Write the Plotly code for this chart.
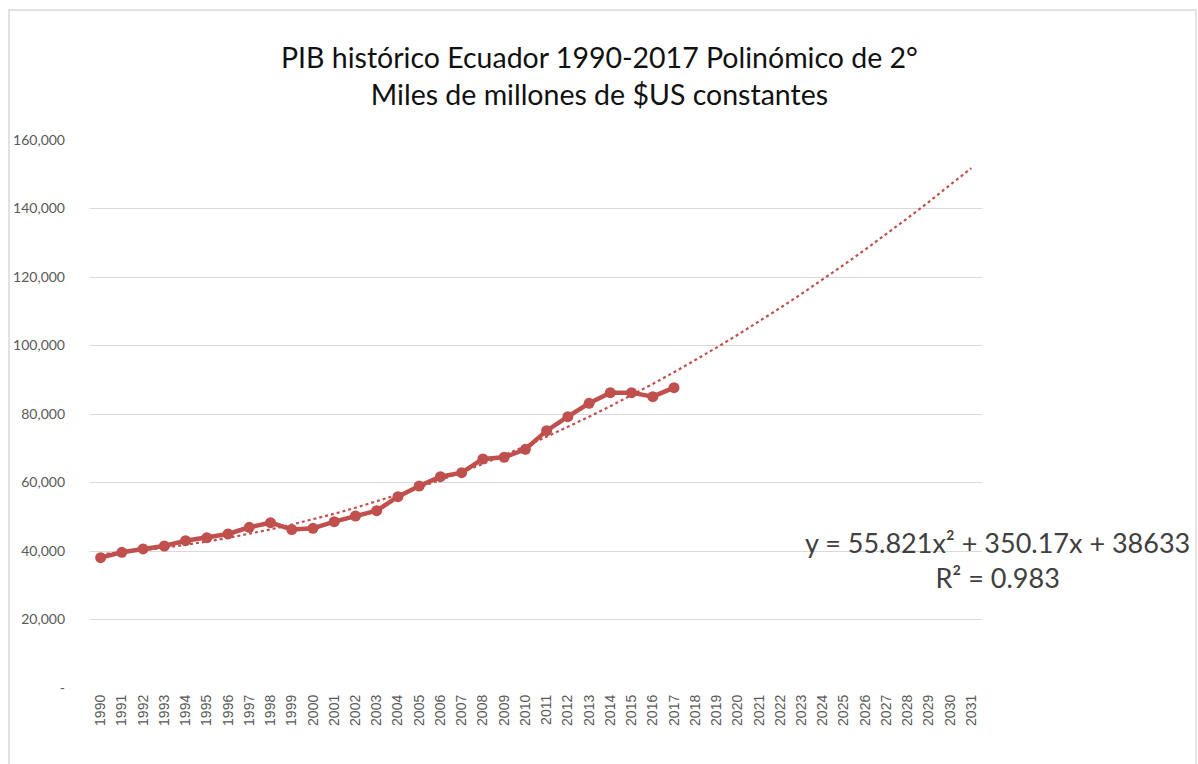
import plotly.graph_objects as go

# PIB real de Ecuador, miles de millones de $US constantes (en millones)
years = list(range(1990, 2018))
gdp = [38050, 39620, 40590, 41460, 43010, 43890, 44970, 46920, 48270, 46280,
       46630, 48560, 50220, 51770, 55860, 58980, 61700, 62870, 66870, 67360,
       69700, 75130, 79220, 83130, 86230, 86230, 85060, 87690]

# Tendencia polinómica de 2° grado (x = 1 para 1990), proyectada hasta 2031
trend_years = list(range(1990, 2032))
coef_a, coef_b, coef_c = 55.821, 350.17, 38633
r_squared = 0.983
trend = [coef_a * t ** 2 + coef_b * t + coef_c for t in range(1, len(trend_years) + 1)]

y_ticks = [0, 20000, 40000, 60000, 80000, 100000, 120000, 140000, 160000]
y_labels = ["-"] + [f"{v:,}" for v in y_ticks[1:]]

RED = "#C0504D"
GRID = "#D9D9D9"
TXT = "#595959"

fig = go.Figure()

fig.add_trace(go.Scatter(
    x=trend_years, y=trend, mode="lines",
    line=dict(color=RED, width=2.2, dash="dot"),
    hoverinfo="skip", showlegend=False,
))
fig.add_trace(go.Scatter(
    x=years, y=gdp, mode="lines+markers",
    line=dict(color=RED, width=4.5),
    marker=dict(color=RED, size=11),
    showlegend=False,
))

fig.update_layout(
    width=1198, height=764,
    margin=dict(l=90, r=216, t=140, b=76),
    paper_bgcolor="white", plot_bgcolor="white",
    font=dict(family="Lato", color=TXT),
    xaxis=dict(
        range=[1989.5, 2031.5],
        tickmode="array", tickvals=trend_years, ticktext=[str(y) for y in trend_years],
        tickangle=-90, tickfont=dict(family="Liberation Sans", size=14, color=TXT),
        showgrid=False, zeroline=False, showline=False, ticks="",
        ticklabelstandoff=3,
    ),
    yaxis=dict(
        range=[0, 160000],
        tickmode="array", tickvals=y_ticks, ticktext=y_labels,
        tickfont=dict(family="Lato", size=14, color=TXT),
        showgrid=True, gridcolor=GRID, gridwidth=1.2,
        zeroline=False, showline=False, ticks="",
        ticklabelstandoff=24,
    ),
    annotations=[
        dict(
            text="PIB histórico Ecuador 1990-2017 Polinómico de 2°<br>Miles de millones de $US constantes",
            xref="paper", yref="paper", x=(599 - 90) / 892, y=(688 - 75) / 548,
            xanchor="center", yanchor="middle", showarrow=False, align="center",
            font=dict(family="Lato", size=28.5, color="#111111"),
        ),
        dict(
            text=f"y = {coef_a}x² + {coef_b}x + {coef_c}<br>R² = {r_squared}",
            xref="paper", yref="paper", x=(997 - 90) / 892, y=(688 - 560) / 548,
            xanchor="center", yanchor="middle", showarrow=False, align="center",
            font=dict(family="Lato", size=27, color="#404040"),
        ),
    ],
    shapes=[dict(
        type="rect", xref="paper", yref="paper",
        x0=-0.0908, x1=1.2399, y0=-0.2, y1=1.2372,
        line=dict(color=GRID, width=1.5), fillcolor="rgba(0,0,0,0)", layer="below",
    )],
)

fig.write_html("out.html")
